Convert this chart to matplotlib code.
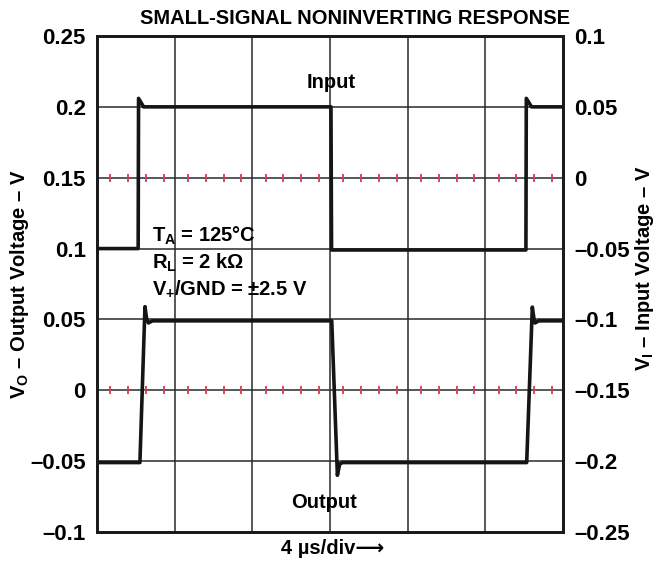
import matplotlib
matplotlib.use("Agg")
import matplotlib.pyplot as plt
import numpy as np

plt.rcParams['font.family'] = ['Liberation Sans', 'DejaVu Sans']
plt.rcParams['font.weight'] = 'bold'
plt.rcParams['mathtext.fontset'] = 'custom'
plt.rcParams['mathtext.rm'] = 'Liberation Sans:bold'
plt.rcParams['mathtext.it'] = 'Liberation Sans:bold'
plt.rcParams['mathtext.bf'] = 'Liberation Sans:bold'

# ---- data (time in microseconds, 4 us/div, 6 divisions) ----
t_input = [0.0, 2.12, 2.14, 2.40, 12.05, 12.08, 22.09, 22.11, 22.38, 24.0]
v_input = [-0.050, -0.050, 0.056, 0.050, 0.050, -0.051, -0.051, 0.056, 0.050, 0.050]

t_output = [0.0, 2.21, 2.47, 2.55, 2.65, 2.85, 12.09, 12.38, 12.50, 12.65,
            22.13, 22.42, 22.50, 22.56, 22.75, 24.0]
v_output = [-0.051, -0.051, 0.059, 0.051, 0.0475, 0.049, 0.049, -0.060, -0.052, -0.051,
            -0.051, 0.0587, 0.051, 0.0475, 0.049, 0.049]

left_ticks = [0.25, 0.2, 0.15, 0.1, 0.05, 0.0, -0.05, -0.1]
left_labels = ["0.25", "0.2", "0.15", "0.1", "0.05", "0", "\u20130.05", "\u20130.1"]
right_ticks = [0.1, 0.05, 0.0, -0.05, -0.1, -0.15, -0.2, -0.25]
right_labels = ["0.1", "0.05", "0", "\u20130.05", "\u20130.1", "\u20130.15", "\u20130.2", "\u20130.25"]
x_divs = [0, 4, 8, 12, 16, 20, 24]
center_lines = [0.15, 0.0]
minor_fracs = [0.17, 0.40, 0.63, 0.86]

W, H = 657, 563
fig = plt.figure(figsize=(W / 100, H / 100), dpi=100)
ax = fig.add_axes([97 / W, 1 - 532 / H, (563 - 97) / W, (532 - 36) / H])
ax.set_xlim(0, 24)
ax.set_ylim(-0.1, 0.25)
grid_c = '#2a2a2a'
for x in x_divs[1:-1]:
    ax.axvline(x, color=grid_c, lw=1.1, zorder=1)
for y in left_ticks[1:-1]:
    ax.axhline(y, color=grid_c, lw=1.1, zorder=1)

# red minor ticks on the centre lines
mx = [d + f * 4 for d in x_divs[:-1] for f in minor_fracs]
for y in center_lines:
    ax.plot(mx, [y] * len(mx), linestyle='none', marker='|', markersize=6,
            markeredgewidth=1.3, color='#e33650', zorder=2)

for s in ax.spines.values():
    s.set_linewidth(2.0)
    s.set_color('#1a1a1a')

ax.set_xticks(x_divs)
ax.set_xticklabels([])
ax.tick_params(axis='x', length=0)
ax.set_yticks(left_ticks)
ax.set_yticklabels(left_labels, fontsize=16, fontweight='bold')
ax.tick_params(axis='y', length=0, pad=8)

ax.plot(t_output, v_output, color='#151515', lw=2.6, zorder=4, solid_joinstyle='round')

ax2 = ax.twinx()
ax2.set_ylim(-0.25, 0.1)
ax2.set_yticks(right_ticks)
ax2.set_yticklabels(right_labels, fontsize=16, fontweight='bold')
ax2.tick_params(axis='y', length=0, pad=8)
for s in ax2.spines.values():
    s.set_linewidth(2.0)
    s.set_color('#1a1a1a')
ax2.plot(t_input, v_input, color='#151515', lw=2.6, zorder=4, solid_joinstyle='round')


def ftext(x, y, s, **kw):
    fig.text(x / W, 1 - y / H, s, **kw)


EN = "\u2013"
ftext(355, 18, "SMALL-SIGNAL NONINVERTING RESPONSE", ha='center', va='center',
      fontsize=14.5, fontweight='bold')
ftext(20, 284, r"V$_{\rm O}$ " + EN + " Output Voltage " + EN + " V",
      rotation=90, ha='center', va='center', fontsize=14.5, fontweight='bold')
ftext(644, 268, r"V$_{\rm I}$ " + EN + " Input Voltage " + EN + " V",
      rotation=90, ha='center', va='center', fontsize=14.5, fontweight='bold')
ftext(333, 548, "4 \u00b5s/div\u27f6", ha='center', va='center', fontsize=14.5, fontweight='bold')
ftext(331, 82, "Input", ha='center', va='center', fontsize=14.5, fontweight='bold')
ftext(324, 503, "Output", ha='center', va='center', fontsize=14.5, fontweight='bold')
ftext(152, 236, r"T$_{\rm A}$ = 125" + "\u00b0C", ha='left', va='center',
      fontsize=14.5, fontweight='bold')
ftext(152, 263, r"R$_{\rm L}$ = 2 k" + "\u03a9", ha='left', va='center',
      fontsize=14.5, fontweight='bold')
ftext(152, 289, r"V$_{+}$/GND = " + "\u00b12.5 V", ha='left', va='center',
      fontsize=14.5, fontweight='bold')

fig.savefig("out.png", dpi=100)
